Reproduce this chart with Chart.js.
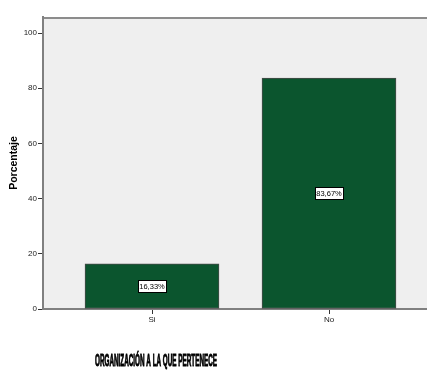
<!DOCTYPE html>
<html>
<head>
<meta charset="utf-8">
<script src="https://cdn.jsdelivr.net/npm/chart.js@4/dist/chart.umd.min.js"></script>
<style>
  html, body { margin: 0; padding: 0; background: #fff; overflow: hidden; }
  #grafica { display: block; }
</style>
</head>
<body>
<canvas id="grafica" width="427" height="374"></canvas>
<script>
// Categorías y porcentajes de la gráfica
const categorias = ['Si', 'No'];
const porcentajes = [16.33, 83.67];
const marcasY = [0, 20, 40, 60, 80, 100];
const tituloX = 'ORGANIZACIÓN A LA QUE PERTENECE';
const tituloY = 'Porcentaje';

const fuente = '"Liberation Sans", Arial, sans-serif';
const $grafica = document.querySelector('#grafica');

// Fondo gris del área de trazado y línea superior
const fondo = {
  id: 'fondo',
  beforeDraw(chart) {
    const { ctx, chartArea: a } = chart;
    ctx.save();
    ctx.fillStyle = '#efefef';
    ctx.fillRect(a.left, a.top, a.right - a.left, a.bottom - a.top);
    ctx.strokeStyle = '#8c8c8c';
    ctx.lineWidth = 2;
    ctx.beginPath();
    ctx.moveTo(a.left, a.top + 1);
    ctx.lineTo(a.right, a.top + 1);
    ctx.stroke();
    ctx.restore();
  }
};

// Etiquetas con el porcentaje dentro de cada barra
const etiquetas = {
  id: 'etiquetas',
  afterDatasetsDraw(chart) {
    const { ctx } = chart;
    const meta = chart.getDatasetMeta(0);
    ctx.save();
    ctx.font = '7.5px ' + fuente;
    ctx.textAlign = 'center';
    ctx.textBaseline = 'middle';
    meta.data.forEach((barra, i) => {
      const texto = porcentajes[i].toFixed(2).replace('.', ',') + '%';
      const cy = Math.round((barra.y + barra.base) / 2);
      const w = Math.round(ctx.measureText(texto).width) + 3;
      const h = 12;
      const x0 = Math.round(barra.x - w / 2) + 0.5;
      const y0 = cy - h / 2 + 0.5;
      ctx.fillStyle = '#fff';
      ctx.fillRect(x0, y0, w, h);
      ctx.strokeStyle = '#000';
      ctx.lineWidth = 1;
      ctx.strokeRect(x0, y0, w, h);
      ctx.fillStyle = '#000';
      ctx.fillText(texto, barra.x, cy + 0.5);
    });
    ctx.restore();
  }
};

// Título del eje X, condensado y grueso
const tituloEjeX = {
  id: 'tituloEjeX',
  afterDraw(chart) {
    const { ctx } = chart;
    ctx.save();
    ctx.font = 'bold 16px ' + fuente;
    const ancho = ctx.measureText(tituloX).width;
    ctx.translate(156, 362);
    ctx.scale(122 / ancho, 1);
    ctx.fillStyle = '#000';
    ctx.strokeStyle = '#000';
    ctx.lineWidth = 1;
    ctx.textAlign = 'center';
    ctx.textBaseline = 'middle';
    ctx.fillText(tituloX, 0, 0);
    ctx.strokeText(tituloX, 0, 0);
    ctx.restore();
  }
};

new Chart($grafica, {
  type: 'bar',
  data: {
    datasets: [{
      data: porcentajes.map((v, i) => ({ x: i, y: v })),
      backgroundColor: '#0b552e',
      borderColor: '#4a4a4a',
      borderWidth: 1,
      borderSkipped: false,
      barThickness: 134
    }]
  },
  options: {
    responsive: false,
    animation: false,
    devicePixelRatio: 1,
    layout: { padding: { top: 17, right: 0, left: 0, bottom: 0 } },
    plugins: {
      legend: { display: false },
      tooltip: { enabled: false }
    },
    scales: {
      x: {
        type: 'linear',
        offset: false,
        min: -109 / 177,
        max: 1 + 98 / 177,
        afterBuildTicks(scale) { scale.ticks = categorias.map((_, i) => ({ value: i })); },
        afterFit(scale) { scale.height = 65; },
        grid: { offset: false, drawOnChartArea: false, drawTicks: true, tickLength: 5, color: '#333' },
        border: { color: '#808080', width: 2 },
        ticks: {
          padding: 1,
          color: '#222',
          font: { family: fuente, size: 8 },
          callback: v => categorias[v]
        }
      },
      y: {
        min: 0,
        max: 100 + 16 / 2.76,
        afterBuildTicks(scale) { scale.ticks = marcasY.map(v => ({ value: v })); },
        afterFit(scale) { scale.width = 43; },
        grid: { drawOnChartArea: false, drawTicks: true, tickLength: 5, color: '#333' },
        border: { color: '#808080', width: 2 },
        ticks: {
          padding: 1,
          color: '#222',
          font: { family: fuente, size: 8 }
        },
        title: {
          display: true,
          text: tituloY,
          color: '#000',
          font: { family: fuente, size: 10.5, weight: 'bold' },
          padding: { top: 8, bottom: 0 }
        }
      }
    }
  },
  plugins: [fondo, etiquetas, tituloEjeX]
});
</script>
</body>
</html>
